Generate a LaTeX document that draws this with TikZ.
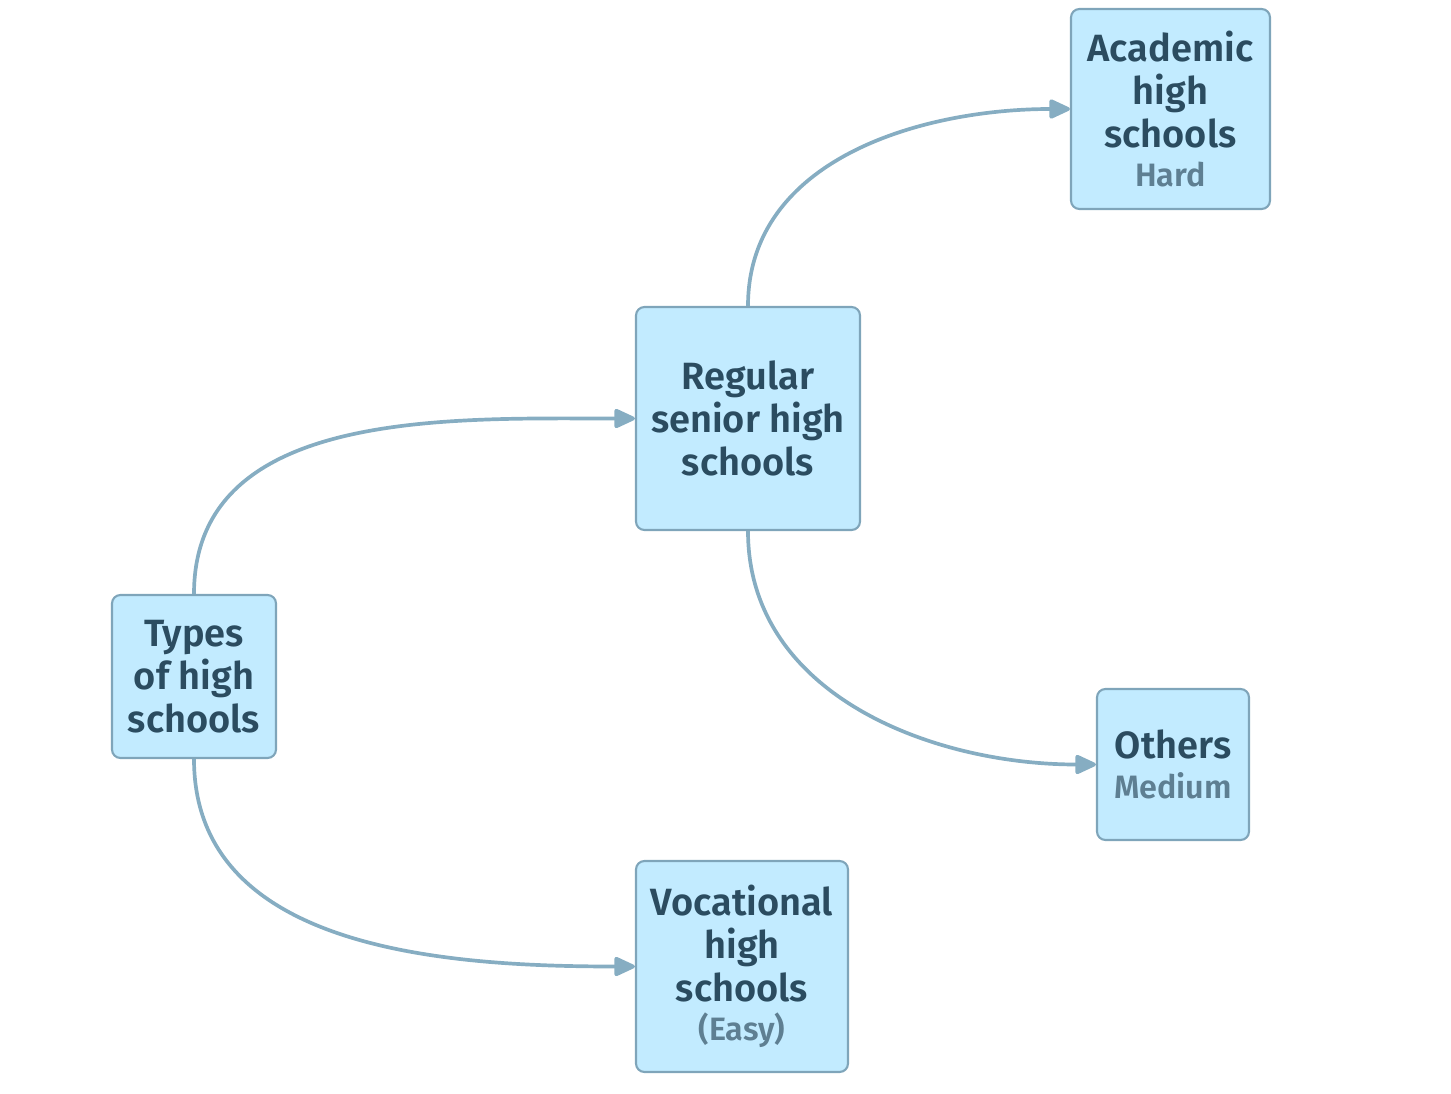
\documentclass[tikz,border=0pt]{standalone}
\usepackage{fontspec}
\setmainfont{Fira Sans}[BoldFont={Fira Sans SemiBold}]
\usetikzlibrary{positioning, arrows.meta}

\definecolor{boxfill}{HTML}{C2EBFF}
\definecolor{boxline}{HTML}{7FA5BA}
\definecolor{boxtext}{HTML}{2B4C60}
\definecolor{subtext}{HTML}{5E7F92}
\definecolor{linkcol}{HTML}{86ADC2}

\newcommand{\subnote}[1]{{\fontsize{9.2}{11}\selectfont\color{subtext}#1}}

\begin{document}
\begin{tikzpicture}[x=0.01cm, y=-0.01cm,
    school/.style={draw=boxline, fill=boxfill, line width=0.6pt, rounded corners=2.4pt,
        align=center, text=boxtext, inner sep=2pt,
        font=\fontsize{10.8}{12.2}\selectfont\bfseries},
    link/.style={draw=linkcol, line width=1.05pt,
        -{Triangle[length=6.6pt, width=5.8pt, round]}}]

    % Canvas
    \useasboundingbox (0,0) rectangle (1451,1094);

    % Boxes
    \node[school, minimum width=164*0.01cm, minimum height=163*0.01cm] (types) at (194,676.5)
        {Types\\of high\\schools};
    \node[school, minimum width=224*0.01cm, minimum height=223*0.01cm] (regular) at (748,418.5)
        {Regular\\senior high\\schools};
    \node[school, minimum width=212*0.01cm, minimum height=211*0.01cm] (vocational) at (742,966.5)
        {Vocational\\high\\schools\\[-1pt]\subnote{(Easy)}};
    \node[school, minimum width=199*0.01cm, minimum height=200*0.01cm] (academic) at (1170.5,109)
        {Academic\\high\\schools\\[-1pt]\subnote{Hard}};
    \node[school, minimum width=152*0.01cm, minimum height=151*0.01cm] (others) at (1173,764.5)
        {Others\\[-1pt]\subnote{Medium}};

    % Links
    \draw[link] (types.north) to[out=90, in=180] (regular.west);
    \draw[link] (types.south) to[out=-90, in=180] (vocational.west);
    \draw[link] (regular.north) to[out=90, in=180] (academic.west);
    \draw[link] (regular.south) to[out=-90, in=180] (others.west);

\end{tikzpicture}
\end{document}
